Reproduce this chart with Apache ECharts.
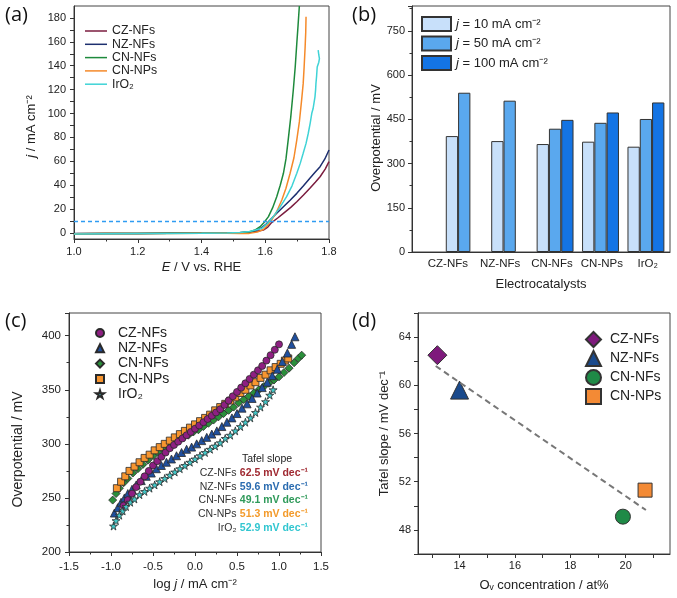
<!DOCTYPE html>
<html>
<head>
<meta charset="utf-8">
<script src="https://cdn.jsdelivr.net/npm/echarts@6/dist/echarts.min.js"></script>
<style>
  html, body { margin: 0; background: #fff; }
  #chart { width: 677px; height: 598px; }
</style>
</head>
<body>
<div id="chart"></div>
<script>
// ---- data ----
const catalysts = ['CZ-NFs', 'NZ-NFs', 'CN-NFs', 'CN-NPs', 'IrO₂'];

// (a) LSV curves [E (V vs RHE), j (mA cm-2)]
const lsvCZ = [[1.0,-0.6],[1.1,-0.4],[1.2,-0.3],[1.3,-0.2],[1.4,-0.1],[1.48,0],[1.52,0.2],[1.55,0.6],[1.57,1.2],[1.594,2.5],[1.608,5.0],[1.62,8.7],[1.64,12.8],[1.657,16.5],[1.68,21.5],[1.699,26.2],[1.72,31.8],[1.74,37.4],[1.757,42.5],[1.772,47.1],[1.788,53.5],[1.8,59.7]];
const lsvNZ = [[1.0,-0.5],[1.1,-0.4],[1.2,-0.3],[1.3,-0.2],[1.4,-0.1],[1.48,0],[1.52,0.3],[1.55,0.9],[1.57,2.0],[1.589,4.5],[1.603,7.5],[1.615,10.9],[1.636,16.5],[1.657,22],[1.678,27.5],[1.699,33.2],[1.72,39.5],[1.74,45.8],[1.757,51],[1.772,55.5],[1.787,62],[1.8,69.5]];
const lsvCNNF = [[1.0,-0.6],[1.1,-0.4],[1.2,-0.3],[1.3,-0.2],[1.4,-0.1],[1.48,0],[1.52,0.3],[1.552,1.1],[1.57,2.8],[1.584,5.3],[1.597,9],[1.61,13.7],[1.623,21],[1.636,30.4],[1.647,40],[1.657,50],[1.665,62],[1.672,78],[1.68,97],[1.688,119.7],[1.694,139],[1.699,158.8],[1.703,174],[1.707,190]];
const lsvCNNP = [[1.0,-0.6],[1.1,-0.5],[1.2,-0.4],[1.3,-0.3],[1.4,-0.2],[1.48,-0.2],[1.52,-0.5],[1.55,-0.3],[1.575,0.8],[1.594,3.0],[1.607,6.5],[1.62,10.9],[1.636,18],[1.652,27.6],[1.665,37.5],[1.678,50],[1.69,63],[1.699,78],[1.707,93],[1.714,111],[1.719,125],[1.722,139],[1.725,155],[1.727,168],[1.728,181]];
const lsvIrO2 = [[1.0,-0.8],[1.1,-0.6],[1.2,-0.4],[1.3,-0.3],[1.4,-0.2],[1.48,0],[1.52,0.4],[1.55,1.2],[1.57,2.5],[1.589,3.9],[1.607,8],[1.625,13.7],[1.646,21.5],[1.667,30.4],[1.684,39.5],[1.699,50],[1.71,58.5],[1.719,66.7],[1.728,75],[1.735,83.5],[1.741,92],[1.746,100.2],[1.75,104],[1.756,114],[1.758,120],[1.759,125],[1.761,131],[1.763,139],[1.768,143],[1.77,146],[1.768,149],[1.766,153]];
const refCurrent = 10;

// (b) overpotentials (mV)
const eta10 = [393, 376, 366, 374, 357];
const eta50 = [540, 513, 418, 438, 451];
const eta100 = [null, null, 448, 473, 507];
// category label anchors along the bar axis (labels sit slightly off the bar groups)
const catLabelAt = [-0.36, 0.79, 1.93, 3.03, 4.04];

// (c) Tafel plots [log j, overpotential mV]
const tafCZ = [[-0.85,243],[-0.8,248],[-0.75,254],[-0.7,260],[-0.65,265],[-0.6,270],[-0.55,275],[-0.5,280],[-0.45,284],[-0.4,288],[-0.35,292],[-0.3,296],[-0.25,299],[-0.2,302],[-0.15,305],[-0.1,308],[-0.05,311],[0,314],[0.05,317],[0.1,320],[0.15,323],[0.2,326],[0.25,329],[0.3,332],[0.35,336],[0.4,340],[0.45,344],[0.5,348],[0.55,352],[0.6,356],[0.65,360],[0.7,364],[0.75,368],[0.8,372],[0.85,377],[0.9,382],[0.95,387],[1.0,392]];
const tafNZ = [[-0.96,236],[-0.92,241],[-0.88,246],[-0.84,250],[-0.8,254],[-0.75,258],[-0.7,262],[-0.64,266],[-0.58,270],[-0.52,273],[-0.46,277],[-0.4,280],[-0.34,283],[-0.28,286],[-0.22,289],[-0.16,292],[-0.1,295],[-0.04,297],[0.02,300],[0.08,303],[0.14,306],[0.2,309],[0.26,312],[0.32,316],[0.38,320],[0.44,324],[0.5,328],[0.56,333],[0.62,337],[0.68,342],[0.74,347],[0.8,352],[0.86,357],[0.92,363],[0.98,369],[1.04,376],[1.1,384],[1.15,392],[1.19,399]];
const tafCNNF = [[-0.98,248],[-0.94,254],[-0.9,259],[-0.85,264],[-0.8,268],[-0.74,273],[-0.68,277],[-0.62,281],[-0.56,285],[-0.5,289],[-0.44,292],[-0.38,295],[-0.32,298],[-0.26,301],[-0.2,303],[-0.14,306],[-0.08,308],[-0.02,311],[0.04,313],[0.1,316],[0.16,319],[0.22,322],[0.28,325],[0.34,328],[0.4,331],[0.46,334],[0.52,338],[0.58,341],[0.64,344],[0.7,347],[0.76,350],[0.82,353],[0.88,356],[0.94,359],[1.0,362],[1.06,366],[1.12,370],[1.18,375],[1.23,379],[1.27,382]];
const tafCNNP = [[-0.93,259],[-0.88,265],[-0.83,270],[-0.78,275],[-0.72,279],[-0.66,283],[-0.6,287],[-0.54,290],[-0.48,294],[-0.42,297],[-0.36,300],[-0.3,303],[-0.24,306],[-0.18,309],[-0.12,312],[-0.06,315],[0,318],[0.06,321],[0.12,324],[0.18,327],[0.24,331],[0.3,334],[0.36,337],[0.42,340],[0.48,343],[0.54,347],[0.6,350],[0.66,354],[0.72,357],[0.78,361],[0.84,364],[0.9,368],[0.96,371],[1.02,374],[1.07,377],[1.11,379]];
const tafIrO2 = [[-0.97,224],[-0.94,229],[-0.9,234],[-0.86,238],[-0.82,242],[-0.77,246],[-0.72,249],[-0.66,253],[-0.6,256],[-0.54,259],[-0.48,262],[-0.42,265],[-0.36,268],[-0.3,271],[-0.24,274],[-0.18,277],[-0.12,280],[-0.06,283],[0,286],[0.06,289],[0.12,292],[0.18,295],[0.24,298],[0.3,301],[0.36,305],[0.42,308],[0.48,312],[0.54,316],[0.6,320],[0.66,324],[0.72,329],[0.78,334],[0.84,339],[0.89,345],[0.93,350]];
const tafelSlopes = [62.5, 59.6, 49.1, 51.3, 52.9];

// (d) Ov concentration (at%) vs Tafel slope
const ovConc = [13.2, 14.0, 19.9, 20.7];
const fitLine = [[13.14, 61.6], [20.73, 49.65]];

// ---- styles ----
const FONT = 'Liberation Sans, Arial, sans-serif';
const INK = '#222';
const lineColors = ['#7b1d3f', '#1d2f6f', '#1e8a3c', '#f58a2a', '#3fd3d6'];
const barColors = ['#c8e0fa', '#5aa8ee', '#1474e4'];
const cColors = ['#8e1f82', '#1f4f9e', '#2a8f3a', '#f7952f', '#43c9c9'];
const slopeColors = ['#a02a32', '#2b6cb0', '#2f9a5a', '#f39a2a', '#31c6d0'];
const dColors = ['#7e1a7c', '#1a4a8c', '#1f8a47', '#f38a35'];
const star = 'path://M50,0 L61,35 L98,35 L68,57 L79,91 L50,70 L21,91 L32,57 L2,35 L39,35 Z';

const axisBase = {
  axisLine: { onZero: false, lineStyle: { color: '#333', width: 1 } },
  axisTick: { inside: false, length: 4, lineStyle: { color: '#333' } },
  minorTick: { show: false },
  splitLine: { show: false },
  axisLabel: { color: INK, fontFamily: FONT, fontSize: 11 },
  nameLocation: 'middle',
  nameTextStyle: { color: INK, fontFamily: FONT, fontSize: 13, rich: { i: { fontStyle: 'italic', fontFamily: FONT, fontSize: 13, color: INK } } }
};
function ax(extra) {
  const a = JSON.parse(JSON.stringify(axisBase));
  for (const k in extra) {
    if (typeof extra[k] === 'object' && !Array.isArray(extra[k]) && a[k]) Object.assign(a[k], extra[k]);
    else a[k] = extra[k];
  }
  return a;
}
const minor = { show: true, splitNumber: 2, length: 2.5, lineStyle: { color: '#333' } };
const gridBox = { show: true, borderColor: '#444', borderWidth: 1, backgroundColor: 'transparent' };
const lsvData = [lsvCZ, lsvNZ, lsvCNNF, lsvCNNP, lsvIrO2];
const tafData = [tafCZ, tafNZ, tafCNNF, tafCNNP, tafIrO2];
const cSymbols = ['circle', 'triangle', 'diamond', 'rect', star];
const cSizes = [7, 8, 8, 7, 8];
const dSymbols = ['diamond', 'triangle', 'circle', 'rect'];
const dSizes = [19, 18, 15, 14];
const jLabels = ['j = 10 mA cm⁻²', 'j = 50 mA cm⁻²', 'j = 100 mA cm⁻²'];
const etaSets = [eta10, eta50, eta100];

const series = [];
lsvData.forEach((d, i) => {
  series.push({
    name: 'a|' + catalysts[i], type: 'line', xAxisIndex: 0, yAxisIndex: 0,
    data: d, symbol: 'none', lineStyle: { width: 1.5, color: lineColors[i] }, itemStyle: { color: lineColors[i] },
    markLine: i === 4 ? {
      silent: true, symbol: 'none', label: { show: false },
      lineStyle: { color: '#2f9cf2', type: [4, 3], width: 1.3, opacity: 1 },
      data: [{ yAxis: refCurrent }]
    } : undefined
  });
});
etaSets.forEach((arr, k) => {
  series.push({
    name: jLabels[k], type: 'bar', xAxisIndex: 1, yAxisIndex: 1,
    data: arr.map((v, i) => [i, v]).filter(p => p[1] != null),
    barWidth: 12.3, barGap: '0%',
    itemStyle: { color: barColors[k], borderColor: '#333', borderWidth: 1 }
  });
});
[2, 3, 1, 0, 4].forEach(i => {
  series.push({
    name: 'c|' + catalysts[i], type: 'scatter', xAxisIndex: 2, yAxisIndex: 2,
    data: tafData[i], symbol: cSymbols[i], symbolSize: cSizes[i],
    itemStyle: { color: cColors[i], borderColor: '#2a2a2a', borderWidth: 0.8, opacity: 1 }
  });
});
series.push({
  name: 'fit', type: 'line', xAxisIndex: 3, yAxisIndex: 3, data: fitLine, symbol: 'none',
  lineStyle: { color: '#777', width: 2, type: [6, 4] }
});
ovConc.forEach((x, i) => {
  series.push({
    name: 'd|' + catalysts[i], type: 'scatter', xAxisIndex: 3, yAxisIndex: 3,
    data: [[x, tafelSlopes[i]]], symbol: dSymbols[i], symbolSize: dSizes[i],
    itemStyle: { color: dColors[i], borderColor: '#333', borderWidth: 1, opacity: 1 }
  });
});

const strip = n => n.split('|')[1];
const legendText = { color: INK, fontFamily: FONT };

const graphic = [
  ['(a)', 5, 5], ['(b)', 352, 5], ['(c)', 5, 311], ['(d)', 352, 311]
].map(([t, x, y]) => ({
  type: 'text', x, y, style: { text: t, font: '20px "Open Sans", "Noto Sans", sans-serif', fill: '#111' }
}));
graphic.push({
  type: 'text', x: 267, y: 459,
  style: { text: 'Tafel slope', font: '10.5px ' + FONT, fill: INK, align: 'center', verticalAlign: 'middle' }
});
catalysts.forEach((c, i) => {
  const rich = { n: { fontFamily: FONT, fontSize: 10.5, fill: '#333' } };
  rich['v' + i] = { fontFamily: FONT, fontSize: 10.5, fontWeight: 'bold', fill: slopeColors[i] };
  graphic.push({
    type: 'text', x: 308, y: 473 + i * 13.8,
    style: {
      text: '{n|' + c + '} {v' + i + '|' + tafelSlopes[i].toFixed(1) + ' mV dec⁻¹}',
      rich, align: 'right', verticalAlign: 'middle'
    }
  });
});

const option = {
  backgroundColor: '#fff',
  animation: false,
  graphic,
  grid: [
    Object.assign({ left: 74, top: 6, width: 255, height: 233 }, gridBox),
    Object.assign({ left: 412, top: 6, width: 258, height: 246 }, gridBox),
    Object.assign({ left: 69, top: 313, width: 252, height: 239 }, gridBox),
    Object.assign({ left: 418, top: 313, width: 252, height: 241 }, gridBox)
  ],
  legend: [
    {
      data: catalysts.map(c => 'a|' + c), formatter: strip, orient: 'vertical', left: 85, top: 25, padding: 0,
      itemWidth: 22, itemHeight: 10, itemGap: 1.3, icon: 'path://M0,5 L22,5 L22,6.5 L0,6.5 Z',
      textStyle: Object.assign({ fontSize: 12.3, lineHeight: 12 }, legendText), selectedMode: false
    },
    {
      data: jLabels, formatter: n => '{i|j}' + n.slice(1), orient: 'vertical', left: 421, top: 16, padding: 0,
      itemWidth: 29, itemHeight: 14, itemGap: 3.5, icon: 'rect',
      textStyle: Object.assign({ fontSize: 13, rich: { i: { fontStyle: 'italic', fontSize: 13, fontFamily: FONT, color: INK } } }, legendText),
      selectedMode: false
    },
    {
      data: catalysts.map(c => 'c|' + c), formatter: strip, orient: 'vertical', left: 95, top: 326, padding: 0,
      itemWidth: 8, itemHeight: 8, itemGap: 1.3,
      textStyle: Object.assign({ fontSize: 14, lineHeight: 14, padding: [0, 0, 0, 9] }, legendText), selectedMode: false
    },
    {
      data: catalysts.slice(0, 4).map(c => 'd|' + c), formatter: strip, orient: 'vertical', left: 585, top: 331, padding: 0,
      itemWidth: 15, itemHeight: 15, itemGap: 2,
      textStyle: Object.assign({ fontSize: 14, padding: [0, 0, 0, 4] }, legendText), selectedMode: false
    }
  ],
  xAxis: [
    ax({
      type: 'value', gridIndex: 0, min: 1.0, max: 1.8, interval: 0.2, minorTick: minor,
      axisLabel: { formatter: v => v.toFixed(1), margin: 7 },
      name: '{i|E} / V vs. RHE', nameGap: 22
    }),
    ax({
      type: 'value', gridIndex: 1, min: -1.15, max: 4.53,
      axisTick: { show: false },
      axisLabel: { customValues: catLabelAt, formatter: v => catalysts[Math.abs(Math.round(v))], margin: 6, fontSize: 11.5 },
      name: 'Electrocatalysts', nameGap: 26
    }),
    ax({
      type: 'value', gridIndex: 2, min: -1.5, max: 1.5, interval: 0.5, minorTick: minor,
      axisLabel: { formatter: v => v.toFixed(1), margin: 9, fontSize: 11.5 },
      name: 'log {i|j} / mA cm⁻²', nameGap: 26
    }),
    ax({
      type: 'value', gridIndex: 3, min: 12.5, max: 21.6,
      axisTick: { customValues: [13, 14, 15, 16, 17, 18, 19, 20, 21] },
      axisLabel: { customValues: [14, 16, 18, 20], margin: 6 },
      name: 'Oᵥ concentration / at%', nameGap: 25
    })
  ],
  yAxis: [
    ax({
      type: 'value', gridIndex: 0, min: -5, max: 190,
      axisTick: { customValues: [0, 10, 20, 30, 40, 50, 60, 70, 80, 90, 100, 110, 120, 130, 140, 150, 160, 170, 180] },
      axisLabel: { customValues: [0, 20, 40, 60, 80, 100, 120, 140, 160, 180], margin: 8 },
      name: '{i|j} / mA cm⁻²', nameGap: 36, nameTextStyle: { padding: [0, 8, 0, 0] }
    }),
    ax({
      type: 'value', gridIndex: 1, min: 0, max: 834, interval: 150, minorTick: minor,
      axisLabel: { showMaxLabel: false, margin: 7 },
      name: 'Overpotential / mV', nameGap: 27, nameTextStyle: { padding: [0, 18, 0, 0] }
    }),
    ax({
      type: 'value', gridIndex: 2, min: 200, max: 421, interval: 50, minorTick: minor,
      axisLabel: { showMaxLabel: false, margin: 8, fontSize: 11.5 },
      name: 'Overpotential / mV', nameGap: 44, nameTextStyle: { fontSize: 14, padding: [0, 34, 0, 0] }
    }),
    ax({
      type: 'value', gridIndex: 3, min: 46, max: 66,
      axisTick: { customValues: [46, 48, 50, 52, 54, 56, 58, 60, 62, 64, 66] },
      axisLabel: { customValues: [48, 52, 56, 60, 64], margin: 7 },
      name: 'Tafel slope / mV dec⁻¹', nameGap: 27
    })
  ],
  series
};

const chart = echarts.init(document.getElementById('chart'), null, { renderer: 'canvas' });
chart.setOption(option);
</script>
</body>
</html>
